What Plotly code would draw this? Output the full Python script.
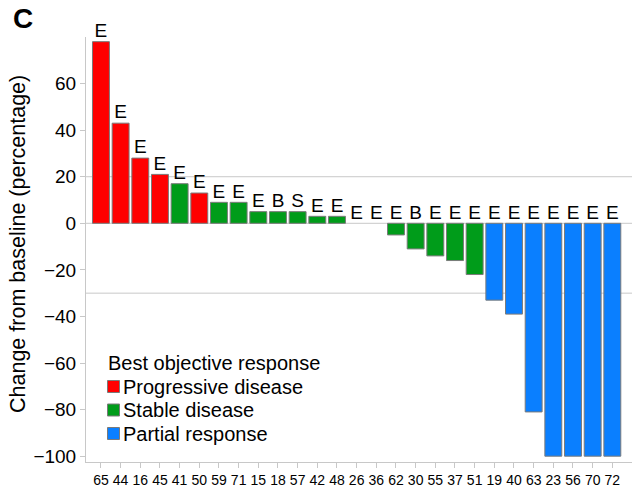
import plotly.graph_objects as go

patients = ["65","44","16","45","41","50","59","71","15","18","57","42","48","26",
            "36","62","30","55","37","51","19","40","63","23","56","70","72"]
change = [78, 43, 28, 21, 17, 13, 9, 9, 5, 5, 5, 3, 3, 0, 0, -5, -11, -14, -16, -22,
          -33, -39, -81, -100, -100, -100, -100]
response = ["PD","PD","PD","PD","SD","PD","SD","SD","SD","SD","SD","SD","SD","SD",
            "SD","SD","SD","SD","SD","SD","PR","PR","PR","PR","PR","PR","PR"]
letters = ["E","E","E","E","E","E","E","E","E","B","S","E","E","E","E","E","B","E",
           "E","E","E","E","E","E","E","E","E"]

groups = [("PD", "Progressive disease", "#ff0000"),
          ("SD", "Stable disease", "#009c1a"),
          ("PR", "Partial response", "#0a7fff")]
legend_title = "Best objective response"

FONT = "Liberation Sans, Arial, Helvetica, sans-serif"
idx = list(range(len(patients)))

# plot area in pixels
L, R, T, B = 86, 632, 37, 462
def px(x):
    return (x - L) / (R - L)
def py(y):
    return (B - y) / (B - T)

fig = go.Figure()
for key, name, color in groups:
    xs = [i for i in idx if response[i] == key]
    ys = [change[i] for i in xs]
    fig.add_trace(go.Bar(x=xs, y=ys, name=name, showlegend=False,
                         marker=dict(color=color,
                                     line=dict(color="#7a7a7a",
                                               width=[0 if v == 0 else 1 for v in ys])),
                         width=0.86))

fig.add_trace(go.Scatter(x=idx, y=[max(v, 0) for v in change], text=letters,
                         mode="text", textposition="top center",
                         textfont=dict(size=19, color="black", family=FONT),
                         showlegend=False, cliponaxis=False))

for yv in [20, -30, 0]:
    fig.add_hline(y=yv, line=dict(color="#c8c8c8", width=1), layer="below")

fig.add_annotation(text="<b>C</b>", x=px(23), y=py(18), xref="paper",
                   yref="paper", showarrow=False, xanchor="center", yanchor="middle",
                   font=dict(size=28, color="black", family=FONT))
fig.add_annotation(text="Change from baseline (percentage)", textangle=-90,
                   x=px(18), y=py(244), xref="paper", yref="paper",
                   showarrow=False, xanchor="center", yanchor="middle",
                   font=dict(size=21.5, color="black", family=FONT))

# legend (title + entries)
fig.add_annotation(text=legend_title, x=px(106), y=py(363), xref="paper", yref="paper",
                   showarrow=False, xanchor="left", yanchor="middle",
                   font=dict(size=20, color="black", family=FONT))
for k, (key, name, color) in enumerate(groups):
    yc = 386.5 + 23.5 * k
    fig.add_shape(type="rect", xref="paper", yref="paper",
                  x0=px(107.5), x1=px(119.5), y0=py(yc - 6), y1=py(yc + 6),
                  fillcolor=color, line=dict(color="#7a7a7a", width=1))
    fig.add_annotation(text=name, x=px(120.5), y=py(yc), xref="paper", yref="paper",
                       showarrow=False, xanchor="left", yanchor="middle",
                       font=dict(size=20, color="black", family=FONT))

fig.update_layout(
    width=632, height=491,
    margin=dict(l=L, r=632 - R, t=T, b=491 - B),
    plot_bgcolor="white", paper_bgcolor="white",
    barmode="relative", showlegend=False,
    font=dict(family=FONT, color="black"),
    xaxis=dict(tickmode="array", tickvals=idx, ticktext=patients,
               range=[-0.76, 27.0], showgrid=False, zeroline=False,
               showline=True, linecolor="#c8c8c8", ticks="outside", ticklen=5,
               tickcolor="#c8c8c8", tickfont=dict(size=14, family=FONT)),
    yaxis=dict(range=[-102.5, 80], tickvals=[-100, -80, -60, -40, -20, 0, 20, 40, 60],
               ticktext=["\u2212100", "\u221280", "\u221260", "\u221240", "\u221220",
                         "0", "20", "40", "60"],
               showgrid=False, zeroline=False, showline=True, linecolor="#c8c8c8",
               ticks="outside", ticklen=5, tickcolor="#c8c8c8",
               tickfont=dict(size=19, family=FONT)),
)

fig.write_html("out.html")
